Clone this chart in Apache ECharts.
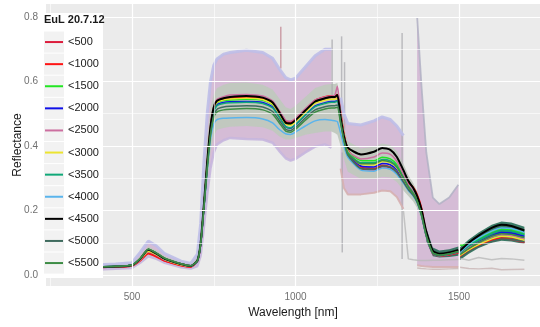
<!DOCTYPE html>
<html>
<head>
<meta charset="utf-8">
<script src="https://cdn.jsdelivr.net/npm/echarts@6/dist/echarts.min.js"></script>
<style>
  html, body { margin: 0; padding: 0; background: #fff; }
  #chart { width: 540px; height: 327px; }
</style>
</head>
<body>
<div id="chart"></div>
<script>
  // wavelength grid (nm); 1500 is a break between the two detector ranges
  const wavelength = [350, 400, 450, 500, 525, 550, 575, 600, 650, 680,
    700, 710, 720, 730, 740, 750, 760, 780, 800, 850,
    900, 930, 950, 970, 985, 1000, 1030, 1060, 1090, 1110,
    1120, 1128, 1138, 1148, 1160, 1200, 1240, 1265, 1290, 1310,
    1330, 1345, 1360, 1372, 1385, 1400, 1420, 1440, 1470, 1498,
    1500, 1502, 1530, 1560, 1600, 1630, 1660, 1700];

  const groupNames = ['<500', '<1000', '<1500', '<2000', '<2500', '<3000',
    '<3500', '<4000', '<4500', '<5000', '<5500'];
  const groupColors = ['#dc1c3c', '#ff1414', '#22e622', '#1010e8', '#cc6fa0', '#ece430',
    '#10a878', '#5ab4ec', '#000000', '#3f6b5e', '#3d8c45'];

  const meanLt500 = [0.021, 0.023, 0.025, 0.028, 0.045, 0.068, 0.058, 0.044, 0.030, 0.025,
    0.042, 0.095, 0.212, 0.342, 0.455, 0.516, 0.536, 0.544, 0.546, 0.548,
    0.544, 0.530, 0.502, 0.472, 0.468, 0.478, 0.508, 0.536, 0.546, 0.550,
    0.550, 0.553, 0.495, 0.432, 0.380, 0.330, 0.326, 0.336, 0.332, 0.316,
    0.288, 0.268, 0.250, 0.228, 0.188, 0.120, 0.066, 0.059, 0.062, 0.068,
    null, 0.056, 0.075, 0.090, 0.105, 0.112, 0.110, 0.100];
  const meanLt1000 = [0.021, 0.023, 0.025, 0.028, 0.044, 0.066, 0.056, 0.043, 0.029, 0.025,
    0.042, 0.096, 0.215, 0.345, 0.458, 0.520, 0.540, 0.548, 0.550, 0.552,
    0.548, 0.535, 0.508, 0.478, 0.474, 0.484, 0.514, 0.542, 0.553, 0.556,
    0.556, 0.560, 0.505, 0.440, 0.390, 0.335, 0.330, 0.340, 0.335, 0.320,
    0.295, 0.285, 0.272, 0.250, 0.210, 0.130, 0.068, 0.060, 0.063, 0.070,
    null, 0.058, 0.078, 0.092, 0.108, 0.115, 0.112, 0.102];
  const meanLt1500 = [0.022, 0.024, 0.026, 0.030, 0.049, 0.076, 0.064, 0.049, 0.033, 0.028,
    0.044, 0.098, 0.216, 0.344, 0.455, 0.514, 0.534, 0.541, 0.543, 0.545,
    0.542, 0.528, 0.500, 0.470, 0.466, 0.476, 0.507, 0.536, 0.548, 0.553,
    0.553, 0.556, 0.495, 0.432, 0.385, 0.355, 0.354, 0.365, 0.360, 0.342,
    0.305, 0.276, 0.255, 0.232, 0.192, 0.126, 0.072, 0.064, 0.068, 0.076,
    null, 0.092, 0.095, 0.112, 0.133, 0.142, 0.140, 0.128];
  const meanLt2000 = [0.022, 0.024, 0.026, 0.029, 0.048, 0.074, 0.062, 0.047, 0.032, 0.027,
    0.043, 0.097, 0.213, 0.340, 0.450, 0.508, 0.528, 0.535, 0.537, 0.538,
    0.535, 0.521, 0.492, 0.460, 0.455, 0.466, 0.496, 0.524, 0.534, 0.538,
    0.538, 0.540, 0.485, 0.425, 0.378, 0.338, 0.335, 0.346, 0.342, 0.326,
    0.295, 0.270, 0.250, 0.228, 0.188, 0.122, 0.068, 0.061, 0.065, 0.072,
    null, 0.064, 0.085, 0.102, 0.122, 0.132, 0.130, 0.120];
  const meanLt2500 = [0.022, 0.024, 0.026, 0.029, 0.047, 0.072, 0.062, 0.047, 0.032, 0.027,
    0.043, 0.097, 0.215, 0.345, 0.460, 0.522, 0.545, 0.553, 0.558, 0.560,
    0.555, 0.540, 0.510, 0.480, 0.477, 0.486, 0.515, 0.542, 0.552, 0.555,
    0.557, 0.585, 0.500, 0.430, 0.385, 0.360, 0.366, 0.378, 0.374, 0.352,
    0.312, 0.280, 0.258, 0.232, 0.190, 0.125, 0.072, 0.064, 0.068, 0.075,
    null, 0.066, 0.085, 0.100, 0.118, 0.125, 0.122, 0.112];
  const meanLt3000 = [0.022, 0.024, 0.026, 0.029, 0.048, 0.074, 0.063, 0.048, 0.032, 0.027,
    0.044, 0.099, 0.218, 0.346, 0.456, 0.515, 0.536, 0.543, 0.546, 0.548,
    0.544, 0.530, 0.500, 0.468, 0.464, 0.474, 0.504, 0.532, 0.542, 0.545,
    0.545, 0.548, 0.490, 0.428, 0.382, 0.343, 0.341, 0.352, 0.348, 0.332,
    0.298, 0.272, 0.252, 0.230, 0.190, 0.123, 0.069, 0.062, 0.066, 0.073,
    null, 0.060, 0.078, 0.094, 0.112, 0.120, 0.118, 0.108];
  const meanLt3500 = [0.023, 0.025, 0.027, 0.031, 0.050, 0.079, 0.067, 0.051, 0.034, 0.028,
    0.044, 0.098, 0.214, 0.340, 0.448, 0.505, 0.525, 0.532, 0.534, 0.536,
    0.532, 0.518, 0.490, 0.460, 0.456, 0.466, 0.496, 0.522, 0.532, 0.536,
    0.536, 0.539, 0.485, 0.426, 0.380, 0.348, 0.348, 0.358, 0.354, 0.336,
    0.302, 0.275, 0.254, 0.230, 0.190, 0.124, 0.070, 0.063, 0.067, 0.074,
    null, 0.068, 0.090, 0.108, 0.128, 0.138, 0.136, 0.125];
  const meanLt4000 = [0.023, 0.025, 0.027, 0.031, 0.050, 0.078, 0.066, 0.050, 0.034, 0.028,
    0.043, 0.095, 0.205, 0.320, 0.420, 0.468, 0.482, 0.486, 0.487, 0.488,
    0.484, 0.472, 0.452, 0.438, 0.436, 0.443, 0.462, 0.478, 0.482, 0.480,
    0.478, 0.476, 0.440, 0.400, 0.365, 0.325, 0.322, 0.332, 0.328, 0.312,
    0.285, 0.262, 0.245, 0.224, 0.185, 0.120, 0.067, 0.060, 0.064, 0.071,
    null, 0.070, 0.095, 0.115, 0.136, 0.146, 0.144, 0.132];
  const meanLt4500 = [0.022, 0.024, 0.026, 0.030, 0.050, 0.078, 0.066, 0.050, 0.034, 0.028,
    0.045, 0.100, 0.220, 0.350, 0.460, 0.520, 0.540, 0.548, 0.552, 0.555,
    0.550, 0.535, 0.505, 0.472, 0.470, 0.480, 0.510, 0.538, 0.548, 0.552,
    0.552, 0.558, 0.490, 0.430, 0.395, 0.374, 0.382, 0.394, 0.388, 0.366,
    0.325, 0.292, 0.270, 0.245, 0.205, 0.135, 0.075, 0.066, 0.070, 0.078,
    null, 0.074, 0.100, 0.122, 0.146, 0.156, 0.152, 0.138];
  const meanLt5000 = [0.023, 0.025, 0.027, 0.031, 0.051, 0.080, 0.068, 0.052, 0.035, 0.029,
    0.044, 0.096, 0.210, 0.332, 0.438, 0.494, 0.514, 0.521, 0.523, 0.525,
    0.521, 0.507, 0.480, 0.452, 0.448, 0.458, 0.487, 0.512, 0.522, 0.525,
    0.525, 0.527, 0.475, 0.418, 0.372, 0.330, 0.328, 0.338, 0.334, 0.318,
    0.288, 0.265, 0.247, 0.226, 0.186, 0.121, 0.067, 0.060, 0.064, 0.071,
    null, 0.052, 0.072, 0.088, 0.104, 0.112, 0.110, 0.102];
  const meanLt5500 = [0.023, 0.025, 0.027, 0.031, 0.051, 0.081, 0.068, 0.052, 0.035, 0.029,
    0.044, 0.097, 0.210, 0.330, 0.432, 0.488, 0.506, 0.512, 0.514, 0.516,
    0.512, 0.499, 0.472, 0.446, 0.443, 0.452, 0.480, 0.505, 0.515, 0.518,
    0.518, 0.520, 0.470, 0.418, 0.376, 0.345, 0.345, 0.355, 0.350, 0.334,
    0.300, 0.273, 0.252, 0.229, 0.189, 0.123, 0.069, 0.062, 0.066, 0.073,
    null, 0.062, 0.082, 0.100, 0.120, 0.128, 0.126, 0.116];
  const groupMeans = [meanLt500, meanLt1000, meanLt1500, meanLt2000, meanLt2500, meanLt3000,
    meanLt3500, meanLt4000, meanLt4500, meanLt5000, meanLt5500];

  // overall range of all spectra (purple ribbon)
  const outerUpper = [0.030, 0.032, 0.034, 0.038, 0.070, 0.105, 0.090, 0.066, 0.043, 0.036,
    0.065, 0.160, 0.350, 0.500, 0.600, 0.650, 0.670, 0.685, 0.690, 0.697,
    0.690, 0.672, 0.640, 0.612, 0.605, 0.610, 0.645, 0.680, 0.700, 0.700,
    null, null, 0.550, 0.500, 0.470, 0.465, 0.478, 0.490, 0.482, 0.462,
    0.432, null, null, 0.800, 0.590, 0.380, 0.240, 0.220, 0.240, 0.280,
    null, null, null, null, null, null, null, null];
  const outerLower = [0.015, 0.017, 0.019, 0.022, 0.038, 0.058, 0.050, 0.038, 0.024, 0.020,
    0.028, 0.060, 0.150, 0.250, 0.330, 0.380, 0.405, 0.418, 0.425, 0.422,
    0.420, 0.410, 0.385, 0.362, 0.355, 0.360, 0.380, 0.398, 0.405, 0.395,
    null, null, 0.330, 0.270, 0.250, 0.250, 0.255, 0.262, 0.260, 0.242,
    0.205, null, null, 0.030, 0.028, 0.026, 0.025, 0.025, 0.025, 0.025,
    null, null, null, null, null, null, null, null];
  // spread of the group means (grey ribbon)
  const innerUpper = [0.025, 0.027, 0.029, 0.034, 0.057, 0.088, 0.075, 0.057, 0.038, 0.031,
    0.055, 0.130, 0.280, 0.420, 0.520, 0.560, 0.580, 0.590, 0.595, 0.597,
    0.590, 0.575, 0.548, 0.520, 0.515, 0.525, 0.552, 0.580, 0.590, 0.592,
    0.592, 0.595, 0.530, 0.460, 0.415, 0.392, 0.398, 0.408, 0.403, 0.384,
    0.345, 0.310, 0.285, 0.258, 0.215, 0.145, 0.085, 0.076, 0.080, 0.088,
    null, 0.085, 0.110, 0.132, 0.156, 0.166, 0.163, 0.150];
  const innerLower = [0.019, 0.021, 0.023, 0.026, 0.042, 0.062, 0.053, 0.041, 0.027, 0.023,
    0.036, 0.075, 0.170, 0.280, 0.380, 0.430, 0.450, 0.456, 0.460, 0.462,
    0.458, 0.447, 0.430, 0.420, 0.420, 0.425, 0.435, 0.440, 0.445, 0.445,
    0.440, 0.435, 0.400, 0.360, 0.320, 0.298, 0.298, 0.305, 0.302, 0.288,
    0.262, 0.245, 0.228, 0.208, 0.170, 0.105, 0.058, 0.054, 0.056, 0.060,
    null, 0.046, 0.066, 0.084, 0.100, 0.106, 0.104, 0.096];

  // single noisy spectra near the bottom
  const greyLowWave = [1330, 1345, 1360, 1372, 1385, 1400, 1420, 1440, 1470, 1498,
    1500, 1502, 1530, 1560, 1600, 1630, 1660, 1700];
  const greyLowA = [0.200, 0.050, 0.047, 0.046, 0.045, 0.045, 0.046, 0.046, 0.047, 0.048,
    null, 0.052, 0.046, 0.054, 0.047, 0.051, 0.050, 0.046];
  const greyLowB = [null, null, null, 0.022, 0.020, 0.019, 0.018, 0.018, 0.019, 0.020,
    null, 0.024, 0.020, 0.019, 0.021, 0.016, 0.017, 0.018];

  // spikes of single spectra
  const spikeWave = [955, 1112, 1141, 1143, 1150, 1326];
  const spikeFrom = [0.64, 0.55, 0.45, 0.07, 0.45, 0.05];
  const spikeTo = [0.77, 0.73, 0.74, 0.38, 0.66, 0.75];

  const xMajor = [500, 1000, 1500];
  const xMinor = [250, 750, 1250];
  const yMajor = [0, 0.2, 0.4, 0.6, 0.8];
  const yMinor = [0.1, 0.3, 0.5, 0.7];

  const FONT = 'Liberation Sans, Arial, sans-serif';
  const pairs = (xs, ys) => xs.map((x, i) => [x, ys[i]]);

  // contiguous runs where both edges exist, inside [from, to]
  function runs(upper, lower, from, to) {
    const out = [];
    let start = -1;
    for (let i = from; i <= to + 1; i++) {
      const ok = i <= to && upper[i] != null && lower[i] != null;
      if (ok && start < 0) start = i;
      if (!ok && start >= 0) { out.push([start, i - 1]); start = -1; }
    }
    return out;
  }

  function band(upper, lower, fill, from, to) {
    const segs = runs(upper, lower, from, to);
    return {
      type: 'custom', z: 2, silent: true, animation: false,
      data: segs.map(() => [1000, 0.4]),
      renderItem: (params, api) => {
        const [a, b] = segs[params.dataIndex];
        const pts = [];
        for (let i = a; i <= b; i++) pts.push(api.coord([wavelength[i], upper[i]]));
        for (let i = b; i >= a; i--) pts.push(api.coord([wavelength[i], lower[i]]));
        return { type: 'polygon', shape: { points: pts }, style: { fill: fill } };
      }
    };
  }

  // edge line of a ribbon, limited to index range [from, to]
  function edge(xs, ys, color, width, from, to) {
    const lo = from == null ? 0 : from, hi = to == null ? xs.length - 1 : to;
    return {
      type: 'line', z: 2, silent: true, smooth: false,
      data: xs.map((x, i) => [x, i >= lo && i <= hi ? ys[i] : null]),
      showSymbol: false, connectNulls: false, animation: false,
      lineStyle: { color: color, width: width }
    };
  }

  const gridLines = [
    ...xMinor.map(v => ({ xAxis: v, lineStyle: { width: 0.6 } })),
    ...yMinor.map(v => ({ yAxis: v, lineStyle: { width: 0.6 } })),
    ...xMajor.map(v => ({ xAxis: v, lineStyle: { width: 1.2 } })),
    ...yMajor.map(v => ({ yAxis: v, lineStyle: { width: 1.2 } }))
  ];

  const series = [
    {
      type: 'line', z: 1, data: [], silent: true,
      markLine: {
        silent: true, symbol: 'none', animation: false, label: { show: false },
        lineStyle: { color: '#ffffff', type: 'solid', opacity: 1 },
        data: gridLines
      }
    },
    band(outerUpper, outerLower, 'rgba(204,169,205,0.72)', 0, 57),
    edge(wavelength, outerUpper, 'rgba(190,190,232,0.9)', 3, 0, 41),
    edge(wavelength, outerUpper, 'rgba(178,178,196,0.85)', 1.8, 43, 57),
    edge(wavelength, outerLower, 'rgba(198,182,222,0.9)', 2.5, 0, 29),
    edge(wavelength, outerLower, 'rgba(214,176,176,0.9)', 2, 32, 57),
    band(innerUpper, innerLower, 'rgba(192,200,190,0.95)', 0, 45),
    band(innerUpper, innerLower, 'rgba(40,110,88,0.9)', 45, 57),
    edge(greyLowWave, greyLowA, 'rgba(185,185,185,0.8)', 1.5),
    edge(greyLowWave, greyLowB, 'rgba(200,180,180,0.8)', 1.5),
    {
      type: 'custom', z: 2, silent: true, animation: false,
      data: spikeWave.map((w, i) => [w, spikeFrom[i], spikeTo[i]]),
      encode: { x: 0, y: [1, 2] },
      renderItem: (params, api) => {
        const p0 = api.coord([api.value(0), api.value(1)]);
        const p1 = api.coord([api.value(0), api.value(2)]);
        const rose = params.dataIndex === 0;
        return {
          type: 'line',
          shape: { x1: p0[0], y1: p0[1], x2: p1[0], y2: p1[1] },
          style: { stroke: rose ? 'rgba(200,150,160,0.9)' : 'rgba(170,170,175,0.75)', lineWidth: 1.5 }
        };
      }
    }
  ];

  groupNames.forEach((name, i) => {
    series.push({
      name: name, type: 'line', z: 3, data: pairs(wavelength, groupMeans[i]),
      smooth: 0.2, showSymbol: false, connectNulls: false, animation: false,
      color: groupColors[i],
      lineStyle: { color: groupColors[i], width: name === '<4500' ? 2 : 1.5 }
    });
  });

  // legend keys (ggplot style boxes) and title
  const legendTop = 31, rowH = 22.1;
  const graphics = [
    { type: 'rect', z: 10, shape: { x: 43, y: 13, width: 60, height: 265 }, style: { fill: '#ffffff' } },
    { type: 'text', z: 12, x: 44, y: 14, style: { text: 'EuL 20.7.12', font: 'bold 11px ' + FONT, fill: '#1a1a1a' } }
  ];
  groupNames.forEach((n, i) => {
    graphics.push({
      type: 'rect', z: 11,
      shape: { x: 44, y: legendTop + i * rowH + 0.5, width: 20, height: rowH - 1 },
      style: { fill: '#f2f2f2' }
    });
  });

  const chart = echarts.init(document.getElementById('chart'));
  chart.setOption({
    animation: false,
    grid: { left: 46, right: 0, top: 4, bottom: 41, outerBoundsMode: 'none', containLabel: false,
      show: true, backgroundColor: '#ebebeb', borderWidth: 0 },
    xAxis: {
      type: 'value', min: 237, max: 1747.7,
      name: 'Wavelength [nm]', nameLocation: 'middle', nameGap: 19,
      nameTextStyle: { fontFamily: FONT, fontSize: 12, color: '#1a1a1a' },
      axisLine: { show: false },
      axisTick: { show: true, length: 3, customValues: xMajor, lineStyle: { color: '#4d4d4d' } },
      axisLabel: { customValues: xMajor, margin: 6, fontFamily: FONT, fontSize: 10, color: '#707070',
        formatter: v => String(v) },
      splitLine: { show: false }
    },
    yAxis: {
      type: 'value', min: -0.0341, max: 0.8403,
      name: 'Reflectance', nameLocation: 'middle', nameGap: 22, nameMoveOverlap: false,
      nameTextStyle: { fontFamily: FONT, fontSize: 12, color: '#1a1a1a' },
      axisLine: { show: false },
      axisTick: { show: true, length: 3, customValues: yMajor, lineStyle: { color: '#4d4d4d' } },
      axisLabel: { customValues: yMajor, margin: 8, fontFamily: FONT, fontSize: 10, color: '#707070',
        formatter: v => v.toFixed(1) },
      splitLine: { show: false }
    },
    legend: {
      data: groupNames, orient: 'vertical', left: 45, top: legendTop, z: 20,
      itemWidth: 18, itemHeight: 2, itemGap: 0, icon: 'rect', selectedMode: false, padding: 0,
      textStyle: { fontFamily: FONT, fontSize: 11, color: '#1a1a1a', lineHeight: rowH }
    },
    graphic: graphics,
    series: series
  });
</script>
</body>
</html>
